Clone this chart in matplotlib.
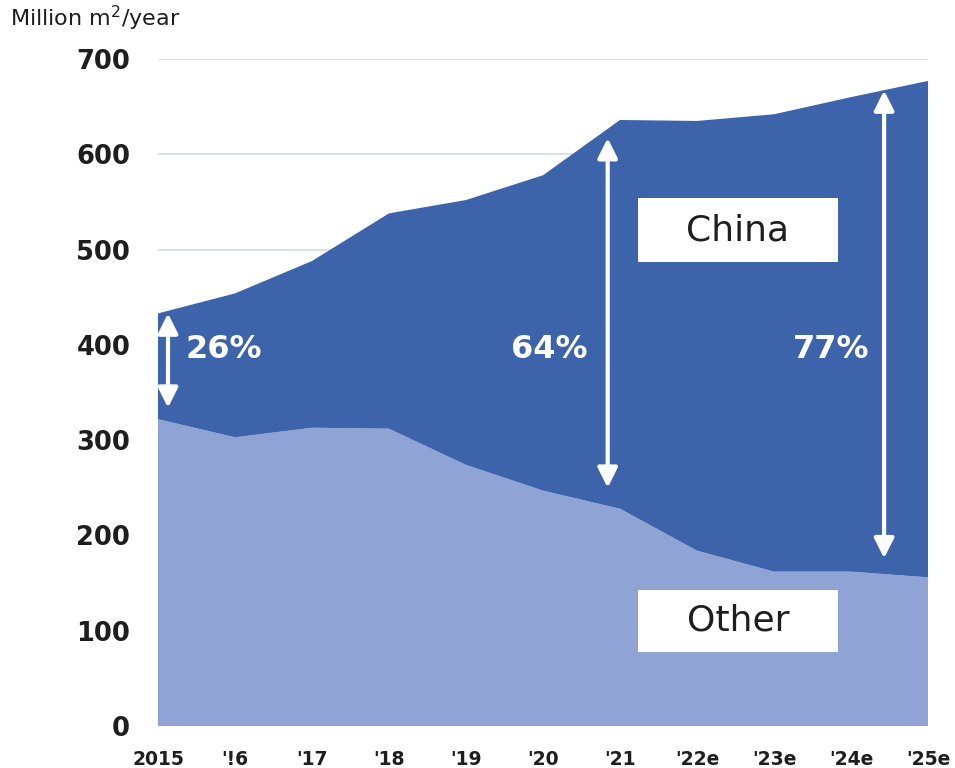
import matplotlib.pyplot as plt
from matplotlib.patches import Rectangle

# ------------------------
# Data
# ------------------------

years = ["2015", "'!6", "'17", "'18", "'19", "'20", "'21", "'22e", "'23e", "'24e", "'25e"]
other = [322, 303, 313, 312, 274, 247, 228, 184, 162, 162, 156]
china = [111, 151, 175, 226, 278, 331, 408, 451, 480, 498, 521]
shares = ["26%", "64%", "77%"]

DARK = "#3D64AB"
LIGHT = "#8FA4D4"
TEXT = "#1E1E1E"

# ------------------------
# Chart
# ------------------------

plt.rcParams["font.family"] = ["DejaVu Sans"]

fig = plt.figure(figsize=(9.55, 7.68), dpi=100)
ax = fig.add_axes([158 / 955, 42 / 768, 770 / 955, 667 / 768])

x = list(range(len(years)))
ax.stackplot(x, other, china, colors=[LIGHT, DARK], linewidth=0, zorder=2)

ax.set_xlim(0, len(years) - 1)
ax.set_ylim(0, 700)
ax.set_yticks(range(0, 701, 100))
ax.set_xticks(x)
ax.set_xticklabels(years)
ax.grid(axis="y", color="#D8DEE9", linewidth=1.3, zorder=0)
ax.set_axisbelow(True)
for s in ax.spines.values():
    s.set_visible(False)
ax.tick_params(axis="y", length=0, pad=20, labelsize=18.5, labelcolor=TEXT)
ax.tick_params(axis="x", length=0, pad=17, labelsize=13.5, labelcolor=TEXT)
for lbl in ax.get_yticklabels() + ax.get_xticklabels():
    lbl.set_fontweight("bold")

fig.text(10 / 955, 1 - 18 / 768, "Million m$^2$/year", fontsize=16, color=TEXT,
         va="center", ha="left")

# share arrows
arrows = [(0.13, 433, 334), (5.84, 617, 250), (9.43, 667, 176)]
for ax_x, top, bottom in arrows:
    ax.annotate("", xy=(ax_x, top), xytext=(ax_x, bottom),
                arrowprops=dict(arrowstyle="<|-|>", color="white", lw=3,
                                mutation_scale=30, shrinkA=0, shrinkB=0),
                zorder=4)

ax.text(0.36, 395, shares[0], color="white", fontsize=23, fontweight="bold",
        ha="left", va="center", zorder=5)
ax.text(5.08, 395, shares[1], color="white", fontsize=23, fontweight="bold",
        ha="center", va="center", zorder=5)
ax.text(8.74, 395, shares[2], color="white", fontsize=23, fontweight="bold",
        ha="center", va="center", zorder=5)

# series labels
for label, y0, y1 in [("China", 487, 554), ("Other", 78, 143)]:
    ax.add_patch(Rectangle((6.23, y0), 2.6, y1 - y0, facecolor="white",
                           edgecolor="none", zorder=5))
    ax.text(7.53, (y0 + y1) / 2, label, fontsize=26, color=TEXT,
            ha="center", va="center", zorder=6)

fig.savefig("out.png", dpi=100)
